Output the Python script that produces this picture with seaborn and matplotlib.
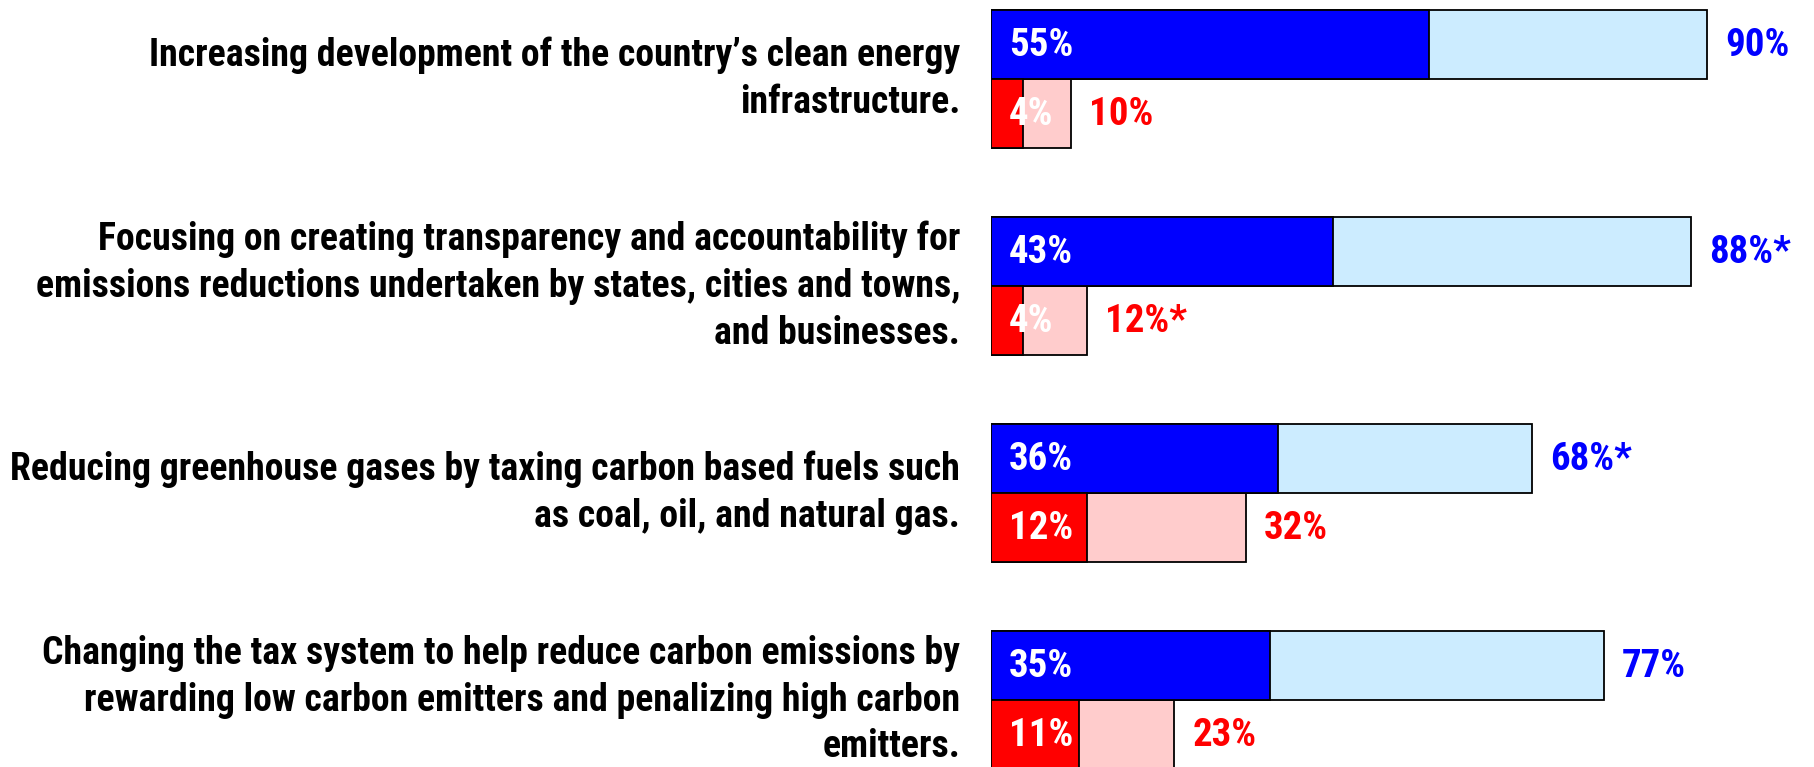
import matplotlib
matplotlib.use("Agg")
import matplotlib.pyplot as plt
from matplotlib import font_manager
import pandas as pd
import seaborn as sns

# ---- data ----
statements = [
    "Increasing development of the country\u2019s clean energy\ninfrastructure.",
    "Focusing on creating transparency and accountability for\nemissions reductions undertaken by states, cities and towns,\nand businesses.",
    "Reducing greenhouse gases by taxing carbon based fuels such\nas coal, oil, and natural gas.",
    "Changing the tax system to help reduce carbon emissions by\nrewarding low carbon emitters and penalizing high carbon\nemitters.",
]
support_strong = [55, 43, 36, 35]
support_total = [90, 88, 68, 77]
support_total_labels = ["90%", "88%*", "68%*", "77%"]
oppose_strong = [4, 4, 12, 11]
oppose_total = [10, 12, 32, 23]
oppose_total_labels = ["10%", "12%*", "32%", "23%"]

BLUE, LIGHT_BLUE = "#0000FF", "#CCECFF"
RED, LIGHT_RED = "#FF0000", "#FFCCCC"

sns.set_theme(style="white")
available = {f.name for f in font_manager.fontManager.ttflist}
family = next((f for f in ["Liberation Sans Narrow", "DejaVu Sans Condensed",
                           "Roboto Condensed", "Open Sans"] if f in available),
              "DejaVu Sans")
plt.rcParams["font.family"] = [family, "DejaVu Sans"]

rows = []
for i in range(len(statements)):
    rows.append({"pos": 3 * i + 0.5, "series": "support",
                 "total": support_total[i], "strong": support_strong[i]})
    rows.append({"pos": 3 * i + 1.5, "series": "oppose",
                 "total": oppose_total[i], "strong": oppose_strong[i]})
df = pd.DataFrame(rows)

W, H, DPI = 1814, 767, 100
fig = plt.figure(figsize=(W / DPI, H / DPI), dpi=DPI)
left_px = 991
px_per_pct = 7.96
ax = fig.add_axes([left_px / W, 0, 1 - left_px / W, 1])

common = dict(data=df, y="pos", hue="series", orient="h", native_scale=True,
              width=1.0, dodge=False, edgecolor="black", linewidth=1.3,
              saturation=1, errorbar=None, legend=False, ax=ax)
sns.barplot(x="total", palette={"support": LIGHT_BLUE, "oppose": LIGHT_RED}, **common)
sns.barplot(x="strong", palette={"support": BLUE, "oppose": RED}, **common)

ax.set_xlim(0, (W - left_px) / px_per_pct)
ax.set_ylim(10.97, -0.145)
ax.set_axis_off()

val_size = 28
pad = 13
for i in range(len(statements)):
    yb, yr = 3 * i + 0.5, 3 * i + 1.5
    ax.annotate(f"{support_strong[i]}%", xy=(0, yb), xytext=(pad, -1),
                textcoords="offset points", ha="left", va="center",
                color="white", fontsize=val_size, fontweight="bold")
    ax.annotate(f"{oppose_strong[i]}%", xy=(0, yr), xytext=(pad, -1),
                textcoords="offset points", ha="left", va="center",
                color="white", fontsize=val_size, fontweight="bold")
    ax.annotate(support_total_labels[i], xy=(support_total[i], yb), xytext=(pad, -1),
                textcoords="offset points", ha="left", va="center",
                color=BLUE, fontsize=val_size, fontweight="bold")
    ax.annotate(oppose_total_labels[i], xy=(oppose_total[i], yr), xytext=(pad, -1),
                textcoords="offset points", ha="left", va="center",
                color=RED, fontsize=val_size, fontweight="bold")
    ax.annotate(statements[i], xy=(0, 3 * i + 1), xytext=(-22.3, 0),
                textcoords="offset points", ha="right", va="center",
                multialignment="right", linespacing=1.34,
                color="black", fontsize=27.2, fontweight="bold",
                annotation_clip=False)

fig.savefig("out.png", dpi=DPI, facecolor="white")
